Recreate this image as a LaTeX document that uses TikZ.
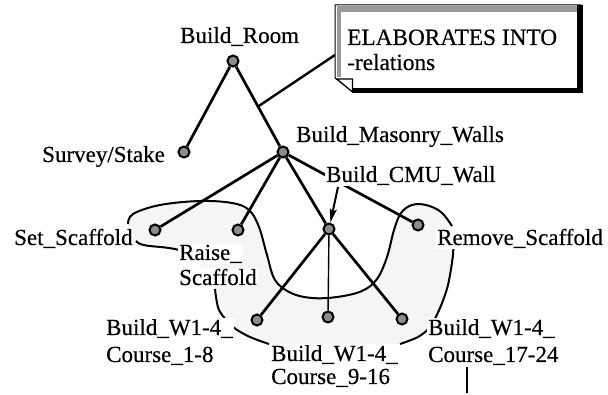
\documentclass[tikz,border=0pt]{standalone}
\usepackage{fontspec}
\setmainfont{Liberation Serif}[FakeBold=0.4]
\usetikzlibrary{arrows.meta,calc,backgrounds}
\begin{document}
\begin{tikzpicture}[x=1pt,y=-1pt,
  dot/.style={circle,draw=black,line width=2pt,fill=black!45,minimum size=11pt,inner sep=0pt},
  lbl/.style={anchor=base west,inner sep=1pt,fill=white,font=\fontsize{23}{25}\selectfont},
  notetext/.style={anchor=base west,inner sep=0pt,font=\fontsize{23.3}{25}\selectfont},
  edge/.style={line width=2.7pt},
  thinedge/.style={line width=1.4pt},
  loopline/.style={line width=2pt},
  pointer/.style={line width=2pt,-{Stealth[length=14pt,width=7pt,inset=3pt]}},
]
\useasboundingbox (0,0) rectangle (608,395);

% activity nodes
\node[dot] (room)   at (233,61)  {};
\node[dot] (survey) at (184,152) {};
\node[dot] (mason)  at (283,152) {};
\node[dot] (cmu)    at (329,229) {};
\node[dot] (setsc)  at (155,230) {};
\node[dot] (raise)  at (238,230) {};
\node[dot] (remove) at (418,225) {};
\node[dot] (ca)     at (257,320) {};
\node[dot] (cb)     at (328,317) {};
\node[dot] (cc)     at (402,319) {};

% note box
\fill[white] (335,5) -- (581,5) -- (581,92) -- (353,92) -- (335,78) -- cycle;
\fill[black!40] (336.5,6.5) rectangle (577,12.5);
\fill[black!40] (336.5,6.5) rectangle (340.5,77);
\draw[line width=1pt] (335,5) -- (581,5) -- (581,92) -- (353,92) -- (335,78) -- cycle;
\fill (577,5) rectangle (582.5,93.5);
\fill (353,88.5) rectangle (582.5,93.5);
\draw[line width=1.2pt,fill=white] (337,79) -- (352.5,79) -- (352.5,92) -- cycle;
\node[notetext] (note1) at (347,45) {ELABORATES INTO};
\node[notetext] (note2) at (347,70) {-relations};
\coordinate (notepin) at (335,55);

% labels
\node[lbl] (lroom)   at (179,43)  {Build\_Room};
\node[lbl] (lsurvey) at (41,162)  {Survey/Stake};
\node[lbl] (lmason)  at (295,142) {Build\_Masonry\_Walls};
\node[lbl] (lcmu)    at (325,182) {Build\_CMU\_Wall};
\node[lbl] (lset)    at (13,245)  {Set\_Scaffold};
\node[lbl] (lraisea) at (178,260) {Raise\_};
\node[lbl] (lraiseb) at (178,285) {Scaffold};
\node[lbl] (lremove) at (436,245) {Remove\_Scaffold};
\node[lbl] (lcaa)    at (105,335) {Build\_W1-4\_};
\node[lbl] (lcab)    at (105,362) {Course\_1-8};
\node[lbl] (lcba)    at (270,361) {Build\_W1-4\_};
\node[lbl] (lcbb)    at (270,384) {Course\_9-16};
\node[lbl] (lcca)    at (427,335) {Build\_W1-4\_};
\node[lbl] (lccb)    at (427,362) {Course\_17-24};
\coordinate (cmutail) at (338,187);

% text cursor
\draw[line width=2pt] (467,367) -- (467,393);

\begin{pgfonlayer}{background}
  % shaded scaffold region
  \fill[black!4] plot[smooth cycle,tension=0.6] coordinates {
    (128,224) (133,214) (160,205) (200,201) (232,203) (249,210) (259,227)
    (267,255) (275,280) (291,293) (312,298) (337,297) (362,291) (377,279)
    (387,257) (394,230) (401,213) (412,205) (426,205) (441,212) (452,226)
    (453,240) (453,255) (448,285) (440,308) (430,327) (418,337) (400,344)
    (335,350) (269,344) (250,337) (233,327) (219,310) (215,289) (200,265)
    (179,250) (160,245) (136,241) (129,233)};

  % elaboration edges
  \draw[edge] (room) -- (survey);
  \draw[edge] (room) -- (mason);
  \draw[edge] (mason) -- (setsc);
  \draw[edge] (mason) -- (raise);
  \draw[edge] (mason) -- (cmu);
  \draw[edge] (mason) -- (remove);
  \draw[edge] (cmu) -- (ca);
  \draw[thinedge] (cmu) -- (cb);
  \draw[edge] (cmu) -- (cc);
  \draw[pointer] (cmutail) -- (cmu);
  \draw[line width=2.4pt] ($(room)!0.5!(mason)$) -- (notepin);

  % scaffold ordering loop
  \draw[loopline] plot[smooth,tension=0.6] coordinates {
    (128,224) (133,214) (160,205) (200,201) (232,203) (249,210) (259,227)
    (267,255) (275,280) (291,293) (312,298) (337,297) (362,291) (377,279)
    (387,257) (394,230) (401,213) (412,205) (426,205) (441,212) (452,226)};
  \draw[loopline] (136,241) .. controls (141,248) and (160,245) .. (179,250);
  \draw[loopline] plot[smooth] coordinates {(215,289) (219,310) (233,327) (250,337) (269,344)};
  \draw[loopline] plot[smooth] coordinates {(400,344) (418,337) (430,327) (440,308) (448,285) (453,255) (453,240)};
\end{pgfonlayer}
\end{tikzpicture}
\end{document}
